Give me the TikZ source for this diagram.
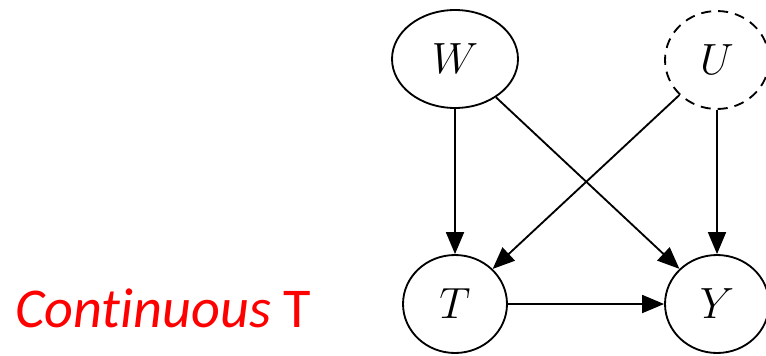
\documentclass[tikz,border=0pt]{standalone}
\usepackage{fontspec}
\newfontfamily\labelfont[Ligatures=NoCommon]{Carlito}
\usetikzlibrary{
  shapes.geometric,
  arrows.meta}
\definecolor{labelcolor}{RGB}{255,0,0}
\tikzset{
  %% observed : an observed variable
  observed/.style={
    ellipse,
    draw=black,
    line width=1.05pt,
    minimum width=2.08cm,
    minimum height=1.96cm,
    inner sep=0pt,
    font=\fontsize{33}{38}\selectfont
  },
  %% latent : an unobserved variable
  latent/.style={
    observed,
    dashed,
    dash pattern=on 5.7pt off 4pt
  },
  %% edge : causal edge between two variables
  edge/.style={
    line width=1.05pt,
    -{Triangle[length=0.44cm, width=0.36cm]}
  }
}

\begin{document}
\begin{tikzpicture}
  [x=0.02cm,
  y=-0.02cm]

  \useasboundingbox (0, 0) rectangle (766, 355);

  %% Variables
  \node (W) [observed, minimum width=2.52cm] at (455, 59) {$W$};
  \node (U) [latent] at (717, 60) {$U$};
  \node (T) [observed] at (455, 304) {$T$};
  \node (Y) [observed] at (717, 304) {$Y$};

  %% Edges
  \draw [edge] (W) -- (T);
  \draw [edge] (W) -- (Y);
  \draw [edge] (U) -- (T);
  \draw [edge] (U) -- (Y);
  \draw [edge] (T) -- (Y);

  %% Label
  \node (caption) [labelcolor, anchor=base west, inner sep=0pt,
    font=\labelfont\fontsize{32}{38}\selectfont] at (15, 327)
    {\textit{Continuous} T};

\end{tikzpicture}
\end{document}
